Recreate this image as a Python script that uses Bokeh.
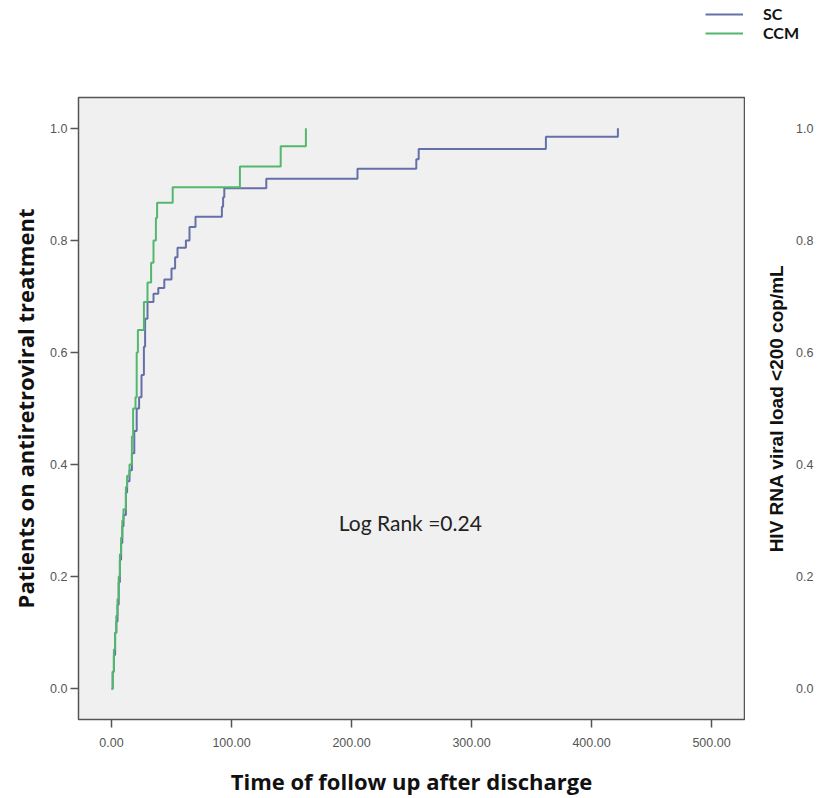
from bokeh.plotting import figure
from bokeh.layouts import column, row
from bokeh.models import (FixedTicker, NumeralTickFormatter, Label,
                          Legend, LegendItem, Range1d)
from bokeh.embed import file_html
from bokeh.resources import INLINE

# --- data ---
sc_time = [0, 1, 2, 3, 4, 5, 6, 7, 8, 9, 10, 12, 13, 15, 17, 19, 21, 23, 25, 27, 28,
           30, 35, 39, 44, 50, 53, 55, 62, 65, 70, 92, 93, 94, 129, 205, 254, 256, 362, 422]
sc_cum = [0.0, 0.03, 0.06, 0.10, 0.12, 0.15, 0.19, 0.23, 0.26, 0.29, 0.31, 0.35, 0.37, 0.39,
          0.42, 0.46, 0.50, 0.52, 0.56, 0.61, 0.66, 0.69, 0.705, 0.715, 0.73, 0.75, 0.77,
          0.787, 0.80, 0.824, 0.842, 0.86, 0.877, 0.893, 0.91, 0.928, 0.945, 0.963, 0.985, 1.0]

ccm_time = [0, 1, 2, 3, 4, 5, 6, 7, 8, 9, 10, 12, 13, 15, 17, 18, 20, 21, 22, 27, 30,
            33, 35, 37, 38, 51, 107, 141, 162]
ccm_cum = [0.0, 0.03, 0.07, 0.10, 0.13, 0.16, 0.20, 0.24, 0.27, 0.30, 0.32, 0.36, 0.38,
           0.40, 0.45, 0.50, 0.52, 0.60, 0.64, 0.69, 0.725, 0.76, 0.80, 0.84, 0.867,
           0.895, 0.932, 0.968, 1.0]

x_ticks = [0, 100, 200, 300, 400, 500]
y_ticks = [0.0, 0.2, 0.4, 0.6, 0.8, 1.0]
series_names = ["SC", "CCM"]
series_colors = ["#6670a8", "#52b86c"]
log_rank_text = "Log Rank =0.24"
log_rank_pos = (249, 0.296)

W, H = 817, 798
LEG_H = 45
MAIN_W = 745
SIDE_W = W - MAIN_W
TOP = 97 - LEG_H
BOTTOM = 78
tick_font = "Liberation Sans"

# ---- legend strip above the chart (its lines lie outside its visible range) ----
leg = figure(width=W, height=LEG_H, output_backend="svg", toolbar_location=None,
             x_axis_type=None, y_axis_type=None,
             x_range=Range1d(1000, 2000), y_range=Range1d(5, 6),
             min_border_left=0, min_border_right=0, min_border_top=0, min_border_bottom=0)
leg.outline_line_color = None
leg.background_fill_color = "white"
leg.border_fill_color = "white"
l_sc = leg.line(x=sc_time, y=sc_cum, line_color=series_colors[0], line_width=2)
l_ccm = leg.line(x=ccm_time, y=ccm_cum, line_color=series_colors[1], line_width=2)
legend = Legend(items=[LegendItem(label=series_names[0], renderers=[l_sc]),
                       LegendItem(label=series_names[1], renderers=[l_ccm])],
                location="top_right")
legend.background_fill_alpha = 0
legend.border_line_color = None
legend.label_text_font = "Lato"
legend.label_text_font_style = "bold"
legend.label_text_font_size = "16px"
legend.label_text_color = "#111111"
legend.glyph_width = 38
legend.glyph_height = 16
legend.label_height = 16
legend.label_width = 50
legend.spacing = 0
legend.padding = 0
legend.margin = 4
legend.label_standoff = 20
leg.add_layout(legend, "center")

# ---- main chart ----
p = figure(width=MAIN_W, height=H - LEG_H, output_backend="svg", toolbar_location=None,
           x_range=(-27.5, 527.5), y_range=(-0.055, 1.055),
           min_border_left=78, min_border_right=1, min_border_top=TOP,
           min_border_bottom=BOTTOM)
p.background_fill_color = "#f0f0f0"
p.border_fill_color = "white"
p.outline_line_color = "#555555"
p.outline_line_width = 1.5
p.xgrid.visible = False
p.ygrid.visible = False

p.step(x=sc_time, y=sc_cum, mode="after", line_color=series_colors[0], line_width=2)
p.step(x=ccm_time, y=ccm_cum, mode="after", line_color=series_colors[1], line_width=2)

for ax in (p.xaxis[0], p.yaxis[0]):
    ax.axis_line_color = None
    ax.major_tick_in = 0
    ax.major_tick_out = 8
    ax.minor_tick_line_color = None
    ax.major_tick_line_color = "#555555"
    ax.major_tick_line_width = 1.5
    ax.major_label_text_font = tick_font
    ax.major_label_text_font_size = "12.5px"
    ax.major_label_text_color = "#555555"
    ax.axis_label_text_font_style = "bold"
    ax.axis_label_text_color = "#111111"

p.xaxis.ticker = FixedTicker(ticks=x_ticks)
p.xaxis.formatter = NumeralTickFormatter(format="0.00")
p.xaxis.axis_label = "Time of follow up after discharge"
p.xaxis.axis_label_text_font = "Open Sans"
p.xaxis.axis_label_text_font_size = "22px"
p.xaxis.major_label_standoff = 10
p.xaxis.axis_label_standoff = 16

p.yaxis.ticker = FixedTicker(ticks=y_ticks)
p.yaxis.formatter = NumeralTickFormatter(format="0.0")
p.yaxis.axis_label = "Patients on antiretroviral treatment"
p.yaxis.axis_label_text_font = "Open Sans"
p.yaxis.axis_label_text_font_size = "22px"
p.yaxis.major_label_standoff = 3
p.yaxis.axis_label_standoff = 7

p.add_layout(Label(x=log_rank_pos[0], y=log_rank_pos[1], text=log_rank_text,
                   text_align="center", text_baseline="middle",
                   text_font="Lato", text_font_size="21px", text_color="#222222"))

# ---- edge of the neighbouring panel (only its left axis is in view) ----
q = figure(width=SIDE_W, height=H - LEG_H, output_backend="svg", toolbar_location=None,
           x_axis_type=None, x_range=Range1d(0, 1), y_range=p.y_range,
           min_border_left=SIDE_W - 2, min_border_right=0, min_border_top=TOP,
           min_border_bottom=BOTTOM)
q.outline_line_color = None
q.background_fill_color = "white"
q.border_fill_color = "white"
q.ygrid.visible = False
qa = q.yaxis[0]
qa.ticker = FixedTicker(ticks=y_ticks)
qa.formatter = NumeralTickFormatter(format="0.0")
qa.axis_line_color = None
qa.major_tick_line_color = None
qa.minor_tick_line_color = None
qa.major_tick_out = 0
qa.major_tick_in = 0
qa.major_label_standoff = 2
qa.major_label_text_font = tick_font
qa.major_label_text_font_size = "12.5px"
qa.major_label_text_color = "#555555"
qa.axis_label = "HIV RNA viral load <200 cop/mL"
qa.axis_label_text_font = "Liberation Sans"
qa.axis_label_text_font_style = "bold"
qa.axis_label_text_font_size = "19px"
qa.axis_label_text_color = "#111111"
qa.axis_label_standoff = 6

open("out.html", "w").write(file_html(column(leg, row(p, q)), INLINE))
